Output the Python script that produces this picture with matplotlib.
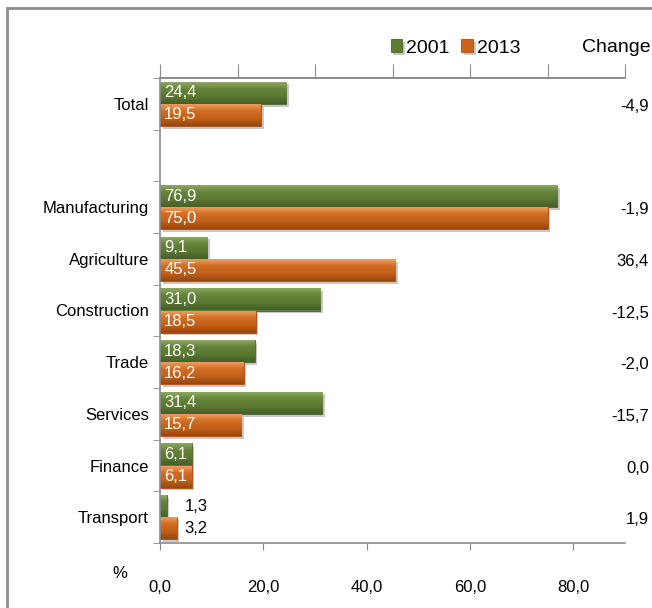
import matplotlib
matplotlib.use("Agg")
import matplotlib.pyplot as plt
from matplotlib import font_manager
from matplotlib.colors import LinearSegmentedColormap
import matplotlib.patches as mpatches
import matplotlib.patheffects as pe
import matplotlib.transforms as mtransforms
import numpy as np

categories = ["Total", "", "Manufacturing", "Agriculture", "Construction",
              "Trade", "Services", "Finance", "Transport"]
values_2001 = [24.4, None, 76.9, 9.1, 31.0, 18.3, 31.4, 6.1, 1.3]
values_2013 = [19.5, None, 75.0, 45.5, 18.5, 16.2, 15.7, 6.1, 3.2]
change = ["-4,9", "", "-1,9", "36,4", "-12,5", "-2,0", "-15,7", "0,0", "1,9"]
x_ticks = [0, 20, 40, 60, 80]

names = {f.name for f in font_manager.fontManager.ttflist}
font = "Liberation Sans Narrow" if "Liberation Sans Narrow" in names else "Liberation Sans"
plt.rcParams["font.family"] = [font, "DejaVu Sans"]

green = "#5e7d33"
orange = "#c9641c"
green_cmap = LinearSegmentedColormap.from_list("g", ["#93ad66", "#66853a", "#5a7830", "#44602a"])
orange_cmap = LinearSegmentedColormap.from_list("o", ["#f2a468", "#d26e24", "#c2601a", "#96470f"])

fig = plt.figure(figsize=(6.52, 6.08), dpi=100)
W, H = 652, 608
ax = fig.add_axes([160 / W, 1 - 543 / H, 465 / W, 465 / H])

pos = [i for i, v in enumerate(values_2001) if v is not None]
v01 = [values_2001[i] for i in pos]
v13 = [values_2013[i] for i in pos]
bh = 0.43
shadow = [pe.SimplePatchShadow(offset=(2, -2), alpha=0.25), pe.Normal()]
b1 = ax.barh([p - bh / 2 for p in pos], v01, height=bh, color=green,
             edgecolor="#4a6526", linewidth=0.6, label="2001", path_effects=shadow)
b2 = ax.barh([p + bh / 2 for p in pos], v13, height=bh, color=orange,
             edgecolor="#a44d12", linewidth=0.6, label="2013", path_effects=shadow)

# gradient fill clipped to each bar
grad = np.linspace(0, 1, 64).reshape(-1, 1)
for bars, cmap in [(b1, green_cmap), (b2, orange_cmap)]:
    for patch in bars:
        x0, y0 = patch.get_x(), patch.get_y()
        w, h = patch.get_width(), patch.get_height()
        im = ax.imshow(grad, cmap=cmap, aspect="auto", origin="upper",
                       extent=[x0, x0 + w, y0 + h, y0], zorder=patch.get_zorder() + 0.1)
        im.set_clip_path(patch)

# value labels
for p, a, b in zip(pos, v01, v13):
    if max(a, b) < 5:
        xo = max(a, b) + 1.5
        ax.text(xo, p - bh / 2, f"{a:.1f}".replace(".", ","), color="black",
                va="center", ha="left", fontsize=12, zorder=5)
        ax.text(xo, p + bh / 2, f"{b:.1f}".replace(".", ","), color="black",
                va="center", ha="left", fontsize=12, zorder=5)
    else:
        ax.text(0.8, p - bh / 2, f"{a:.1f}".replace(".", ","), color="white",
                va="center", ha="left", fontsize=12, zorder=5)
        ax.text(0.8, p + bh / 2, f"{b:.1f}".replace(".", ","), color="white",
                va="center", ha="left", fontsize=12, zorder=5)

ax.set_xlim(0, 90)
ax.set_ylim(8.5, -0.5)
ax.set_xticks(x_ticks)
ax.set_xticklabels([f"{t:.1f}".replace(".", ",") for t in x_ticks], fontsize=12)
ax.set_yticks(range(len(categories)))
ax.set_yticklabels(categories, fontsize=12)
ax.set_yticks([i - 0.5 for i in range(len(categories) + 1)], minor=True)
ax.tick_params(axis="y", which="major", length=0, pad=8)
ax.tick_params(axis="y", which="minor", length=5, color="#888888", direction="out")
ax.tick_params(axis="x", length=5, color="#888888", pad=22)
ax.spines["right"].set_visible(False)
for s in ["left", "bottom", "top"]:
    ax.spines[s].set_color("#8c8c8c")
    ax.spines[s].set_linewidth(1.2)

# secondary top axis ticks
top = ax.secondary_xaxis("top")
top.set_xticks([0, 15, 30, 45, 60, 75, 90])
top.set_xticklabels([])
top.tick_params(length=10, color="#8c8c8c")
top.spines["top"].set_color("#8c8c8c")
top.spines["top"].set_linewidth(1.2)

fig.text(120 / W, 1 - 573 / H, "%", fontsize=12, ha="center", va="center")

# change column
tr = mtransforms.blended_transform_factory(fig.transFigure, ax.transData)
for p, c in enumerate(change):
    if c:
        ax.text(649 / W, p + 0.05, c, transform=tr, ha="right", va="center",
                fontsize=12, clip_on=False)
fig.text(651 / W, 1 - 48 / H, "Change", ha="right", va="center", fontsize=14)

fig.legend(handles=[b1, b2], labels=["2001", "2013"], loc="center right",
           bbox_to_anchor=(530 / W, 1 - 48 / H), ncol=2, frameon=False,
           fontsize=14, handlelength=0.6, handleheight=0.6, handletextpad=0.2,
           columnspacing=0.6, borderpad=0)

# outer frame and cut-off title
fig.add_artist(mpatches.Rectangle((7 / W, -0.1), 1.2, 1.1 - 8 / H, fill=False,
                                  edgecolor="#8c8c8c", linewidth=2,
                                  transform=fig.transFigure))
fig.text(20 / W, 1 + 4.5 / H, "Employment by industry, %",
         ha="left", va="baseline", fontsize=17, fontweight="bold",
         family="DejaVu Sans")

fig.savefig("out.png", dpi=100)
